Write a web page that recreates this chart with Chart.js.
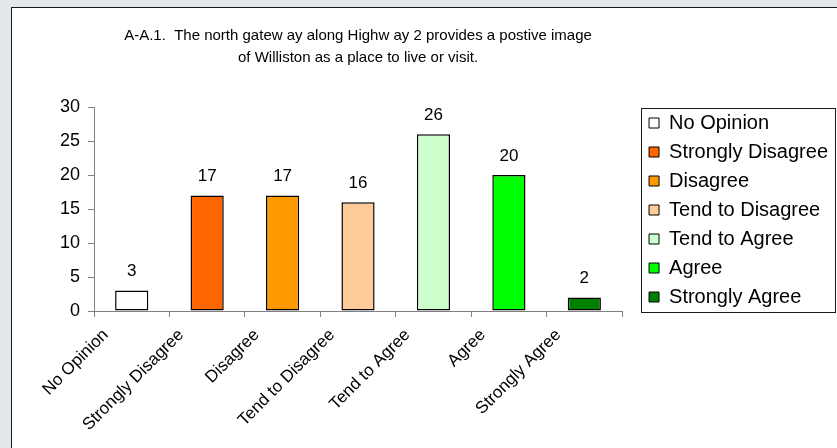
<!DOCTYPE html>
<html lang="en">
<head>
    <meta charset="UTF-8">
    <title>North gateway survey chart</title>
    <style>
        html, body {
            margin: 0;
            padding: 0;
        }
        body {
            width: 837px;
            height: 448px;
            background: #e4e7ea;
            overflow: hidden;
            position: relative;
        }
        /* white chart panel, runs off the right and bottom edge */
        .panel {
            position: absolute;
            left: 11px;
            top: 7px;
            width: 840px;
            height: 460px;
            background: #fff;
            border: 1px solid #1a1a1a;
        }
        canvas {
            position: absolute;
            left: 0;
            top: 0;
        }
    </style>
</head>
<body>
    <div class="panel"></div>
    <canvas id="myChart" width="837" height="448"></canvas>

    <script src="https://cdn.jsdelivr.net/npm/chart.js"></script>
    <script>
    var titleLines = [
        'A-A.1.  The north gatew ay along Highw ay 2 provides a postive image',
        'of Williston as a place to live or visit.'
    ];
    var categories = ['No Opinion', 'Strongly Disagree', 'Disagree', 'Tend to Disagree', 'Tend to Agree', 'Agree', 'Strongly Agree'];
    var counts = [3, 17, 17, 16, 26, 20, 2];
    var barColors = ['#ffffff', '#ff6600', '#ff9900', '#ffcc99', '#ccffcc', '#00ff00', '#008000'];
    var yTicks = [0, 5, 10, 15, 20, 25, 30];

    var fontFamily = 'Arial, "Liberation Sans", sans-serif';
    Chart.defaults.font.family = fontFamily;
    Chart.defaults.color = '#000';

    // numbers above the bars
    var valueLabels = {
        id: 'valueLabels',
        afterDatasetsDraw: function(chart) {
            var ctx = chart.ctx;
            var meta = chart.getDatasetMeta(0);
            ctx.save();
            ctx.font = '17px ' + fontFamily;
            ctx.fillStyle = '#000';
            ctx.textAlign = 'center';
            ctx.textBaseline = 'middle';
            meta.data.forEach(function(bar, i) {
                ctx.fillText(String(counts[i]), bar.x, bar.y - 19);
            });
            ctx.restore();
        }
    };

    // nudge the legend right of the plot and up a bit, like the Excel one
    var legendPlace = {
        id: 'legendPlace',
        afterLayout: function(chart) {
            var lg = chart.legend;
            lg.left += 18;
            lg.right = chart.width;
            lg.width = lg.right - lg.left;
            lg.top -= 14;
            lg.bottom -= 14;
        }
    };

    // frame round the legend
    var legendFrame = {
        id: 'legendFrame',
        afterDraw: function(chart) {
            var boxes = chart.legend.legendHitBoxes;
            if (!boxes || !boxes.length) return;
            var first = boxes[0];
            var last = boxes[boxes.length - 1];
            var top = Math.round(first.top + first.height / 2 - 15);
            var bottom = Math.round(last.top + last.height / 2 + 15);
            var left = Math.round(first.left - 8);
            var ctx = chart.ctx;
            ctx.save();
            ctx.strokeStyle = '#1a1a1a';
            ctx.lineWidth = 1;
            ctx.strokeRect(left + 0.5, top + 0.5, chart.width - 2 - left, bottom - top);
            ctx.restore();
        }
    };

    var ctx = document.getElementById('myChart').getContext('2d');
    var myChart = new Chart(ctx, {
        type: 'bar',
        data: {
            labels: categories,
            datasets: [{
                label: 'Responses',
                data: counts,
                backgroundColor: barColors,
                borderColor: '#000',
                borderWidth: 1.5,
                borderSkipped: false,
                barPercentage: 0.44,
                categoryPercentage: 1
            }]
        },
        options: {
            responsive: false,
            devicePixelRatio: 1,
            animation: false,
            layout: { padding: { left: 0, right: 17, top: 0, bottom: 0 } },
            plugins: {
                title: {
                    display: true,
                    fullSize: false,
                    text: titleLines,
                    color: '#000',
                    font: { size: 15, weight: 'normal', lineHeight: 1.47 },
                    padding: { top: 25, bottom: 38 }
                },
                legend: {
                    position: 'right',
                    labels: {
                        boxWidth: 10,
                        boxHeight: 10,
                        padding: 9,
                        color: '#000',
                        font: { size: 20 },
                        generateLabels: function(chart) {
                            return categories.map(function(c, i) {
                                return {
                                    text: c,
                                    fillStyle: barColors[i],
                                    strokeStyle: '#000',
                                    lineWidth: 1,
                                    hidden: false,
                                    index: i,
                                    fontColor: '#000'
                                };
                            });
                        }
                    }
                },
                tooltip: { enabled: false }
            },
            scales: {
                x: {
                    offset: true,
                    grid: { offset: true, drawOnChartArea: false, tickLength: 6, color: '#808080' },
                    border: { color: '#808080', width: 1 },
                    ticks: { minRotation: 45, maxRotation: 45, autoSkip: false, padding: 8, labelOffset: -26, color: '#000', font: { size: 17 } },
                    afterFit: function(scale) { scale.height = 137; }
                },
                y: {
                    min: yTicks[0],
                    max: yTicks[yTicks.length - 1],
                    grid: { drawOnChartArea: false, tickLength: 6, color: '#808080' },
                    border: { color: '#808080', width: 1 },
                    ticks: { padding: 8, color: '#000', font: { size: 18 } },
                    afterBuildTicks: function(scale) {
                        scale.ticks = yTicks.map(function(v) { return { value: v }; });
                    },
                    afterFit: function(scale) { scale.width = 94; }
                }
            }
        },
        plugins: [valueLabels, legendPlace, legendFrame]
    });
    </script>
</body>
</html>
